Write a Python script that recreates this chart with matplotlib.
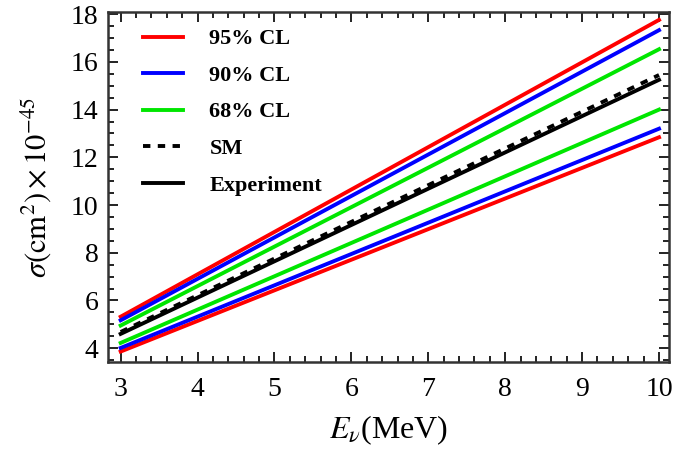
"""Neutrino cross section vs energy: confidence-level bands, SM and experiment."""
import matplotlib
matplotlib.use("Agg")
import matplotlib.pyplot as plt
import numpy as np
from matplotlib.ticker import MultipleLocator

# Energies at the two ends of each straight line (MeV)
energy = [3, 10]

# cross section (x 1e-45 cm^2) at E = 3 and E = 10
cl95_upper = [5.32, 17.76]
cl95_lower = [3.86, 12.84]
cl90_upper = [5.17, 17.33]
cl90_lower = [4.01, 13.20]
cl68_upper = [4.95, 16.53]
cl68_lower = [4.22, 14.00]
sm = [4.68, 15.45]
experiment = [4.60, 15.25]

plt.rcParams.update({
    "font.family": ["Liberation Serif", "DejaVu Serif"],
    "mathtext.fontset": "stix",
})

fig = plt.figure(figsize=(6.95, 4.54), dpi=100)
ax = fig.add_axes([0.1554, 0.2026, 0.8072, 0.7714])

lw = 2.8
ax.plot(energy, cl95_upper, color="#ff0000", lw=lw, label="95% CL")
ax.plot(energy, cl95_lower, color="#ff0000", lw=lw)
ax.plot(energy, cl90_upper, color="#0000ff", lw=lw, label="90% CL")
ax.plot(energy, cl90_lower, color="#0000ff", lw=lw)
ax.plot(energy, cl68_upper, color="#00e600", lw=lw, label="68% CL")
ax.plot(energy, cl68_lower, color="#00e600", lw=lw)
ax.plot(energy, sm, color="black", lw=lw, dashes=(1.9, 1.9), label="SM")
ax.plot(energy, experiment, color="black", lw=lw, label="Experiment")

ax.set_xlim(2.835, 10.13)
ax.set_ylim(3.42, 18.1)
ax.xaxis.set_major_locator(MultipleLocator(1))
ax.xaxis.set_minor_locator(MultipleLocator(0.2))
ax.yaxis.set_major_locator(MultipleLocator(2))
ax.yaxis.set_minor_locator(MultipleLocator(0.5))
ax.tick_params(which="both", direction="in", top=True, right=True,
               width=1.4, colors="#222222", labelcolor="black",
               labelsize=20)
ax.tick_params(axis="x", which="major", length=7, pad=11)
ax.tick_params(axis="y", which="major", length=7, pad=7)
ax.tick_params(which="minor", length=4)
for s in ax.spines.values():
    s.set_linewidth(1.8)
    s.set_color("#333333")

ax.set_xlabel(r"$E_\nu$(MeV)", fontsize=23, labelpad=8)
ax.set_ylabel(r"$\sigma(\mathrm{cm}^2)\times10^{-45}$", fontsize=22, labelpad=12)

ax.legend(loc="upper left", bbox_to_anchor=(0.046, 0.977), borderaxespad=0,
          frameon=False, handlelength=1.8, handletextpad=1.2,
          labelspacing=0.72,
          prop={"family": "Liberation Serif", "weight": "bold", "size": 16})

fig.savefig("out.png", dpi=100)
